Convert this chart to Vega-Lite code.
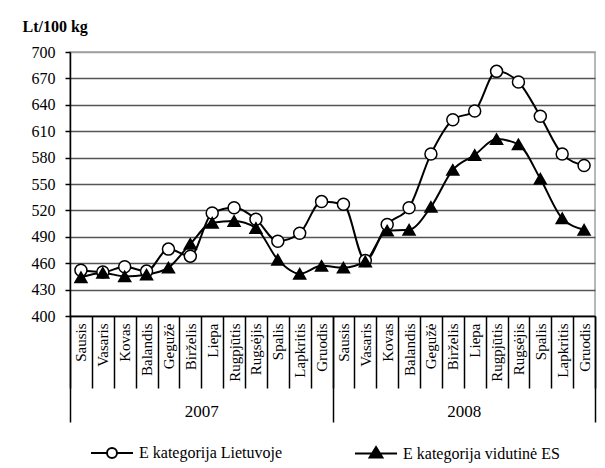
{
  "$schema": "https://vega.github.io/schema/vega-lite/v6.json",
  "width": 525,
  "height": 264,
  "autosize": {"type": "none"},
  "padding": {"left": 70, "top": 52, "right": 10, "bottom": 152},
  "background": "white",
  "config": {
    "font": "Liberation Serif",
    "view": {"stroke": "#a0a0a0", "strokeWidth": 1.5}
  },
  "data": {
    "values": [
      {"m": "Sausis 2007", "year": "2007", "s": "E kategorija Lietuvoje", "v": 452},
      {"m": "Vasaris 2007", "year": "2007", "s": "E kategorija Lietuvoje", "v": 450},
      {"m": "Kovas 2007", "year": "2007", "s": "E kategorija Lietuvoje", "v": 456},
      {"m": "Balandis 2007", "year": "2007", "s": "E kategorija Lietuvoje", "v": 451},
      {"m": "Gegužė 2007", "year": "2007", "s": "E kategorija Lietuvoje", "v": 476},
      {"m": "Birželis 2007", "year": "2007", "s": "E kategorija Lietuvoje", "v": 468},
      {"m": "Liepa 2007", "year": "2007", "s": "E kategorija Lietuvoje", "v": 517},
      {"m": "Rugpjūtis 2007", "year": "2007", "s": "E kategorija Lietuvoje", "v": 523},
      {"m": "Rugsėjis 2007", "year": "2007", "s": "E kategorija Lietuvoje", "v": 510},
      {"m": "Spalis 2007", "year": "2007", "s": "E kategorija Lietuvoje", "v": 485},
      {"m": "Lapkritis 2007", "year": "2007", "s": "E kategorija Lietuvoje", "v": 494},
      {"m": "Gruodis 2007", "year": "2007", "s": "E kategorija Lietuvoje", "v": 530},
      {"m": "Sausis 2008", "year": "2008", "s": "E kategorija Lietuvoje", "v": 527},
      {"m": "Vasaris 2008", "year": "2008", "s": "E kategorija Lietuvoje", "v": 463},
      {"m": "Kovas 2008", "year": "2008", "s": "E kategorija Lietuvoje", "v": 504},
      {"m": "Balandis 2008", "year": "2008", "s": "E kategorija Lietuvoje", "v": 523},
      {"m": "Gegužė 2008", "year": "2008", "s": "E kategorija Lietuvoje", "v": 584},
      {"m": "Birželis 2008", "year": "2008", "s": "E kategorija Lietuvoje", "v": 623},
      {"m": "Liepa 2008", "year": "2008", "s": "E kategorija Lietuvoje", "v": 633},
      {"m": "Rugpjūtis 2008", "year": "2008", "s": "E kategorija Lietuvoje", "v": 678},
      {"m": "Rugsėjis 2008", "year": "2008", "s": "E kategorija Lietuvoje", "v": 666},
      {"m": "Spalis 2008", "year": "2008", "s": "E kategorija Lietuvoje", "v": 627},
      {"m": "Lapkritis 2008", "year": "2008", "s": "E kategorija Lietuvoje", "v": 584},
      {"m": "Gruodis 2008", "year": "2008", "s": "E kategorija Lietuvoje", "v": 571},
      {"m": "Sausis 2007", "year": "2007", "s": "E kategorija  vidutinė ES", "v": 444},
      {"m": "Vasaris 2007", "year": "2007", "s": "E kategorija  vidutinė ES", "v": 449},
      {"m": "Kovas 2007", "year": "2007", "s": "E kategorija  vidutinė ES", "v": 445},
      {"m": "Balandis 2007", "year": "2007", "s": "E kategorija  vidutinė ES", "v": 447},
      {"m": "Gegužė 2007", "year": "2007", "s": "E kategorija  vidutinė ES", "v": 455},
      {"m": "Birželis 2007", "year": "2007", "s": "E kategorija  vidutinė ES", "v": 482},
      {"m": "Liepa 2007", "year": "2007", "s": "E kategorija  vidutinė ES", "v": 506},
      {"m": "Rugpjūtis 2007", "year": "2007", "s": "E kategorija  vidutinė ES", "v": 508},
      {"m": "Rugsėjis 2007", "year": "2007", "s": "E kategorija  vidutinė ES", "v": 500},
      {"m": "Spalis 2007", "year": "2007", "s": "E kategorija  vidutinė ES", "v": 464},
      {"m": "Lapkritis 2007", "year": "2007", "s": "E kategorija  vidutinė ES", "v": 448},
      {"m": "Gruodis 2007", "year": "2007", "s": "E kategorija  vidutinė ES", "v": 457},
      {"m": "Sausis 2008", "year": "2008", "s": "E kategorija  vidutinė ES", "v": 455},
      {"m": "Vasaris 2008", "year": "2008", "s": "E kategorija  vidutinė ES", "v": 462},
      {"m": "Kovas 2008", "year": "2008", "s": "E kategorija  vidutinė ES", "v": 497},
      {"m": "Balandis 2008", "year": "2008", "s": "E kategorija  vidutinė ES", "v": 498},
      {"m": "Gegužė 2008", "year": "2008", "s": "E kategorija  vidutinė ES", "v": 524},
      {"m": "Birželis 2008", "year": "2008", "s": "E kategorija  vidutinė ES", "v": 566},
      {"m": "Liepa 2008", "year": "2008", "s": "E kategorija  vidutinė ES", "v": 583},
      {"m": "Rugpjūtis 2008", "year": "2008", "s": "E kategorija  vidutinė ES", "v": 601},
      {"m": "Rugsėjis 2008", "year": "2008", "s": "E kategorija  vidutinė ES", "v": 595},
      {"m": "Spalis 2008", "year": "2008", "s": "E kategorija  vidutinė ES", "v": 556},
      {"m": "Lapkritis 2008", "year": "2008", "s": "E kategorija  vidutinė ES", "v": 511},
      {"m": "Gruodis 2008", "year": "2008", "s": "E kategorija  vidutinė ES", "v": 498}
    ]
  },
  "layer": [
    {
      "mark": {"type": "line", "interpolate": "monotone", "color": "black", "strokeWidth": 2},
      "encoding": {
        "x": {"field": "m", "type": "nominal", "sort": null, "scale": {"type": "band", "paddingInner": 0, "paddingOuter": 0}, "axis": null},
        "y": {
          "field": "v", "type": "quantitative",
          "scale": {"domain": [400, 700], "zero": false, "nice": false},
          "axis": {
            "values": [400, 430, 460, 490, 520, 550, 580, 610, 640, 670, 700],
            "tickCount": 11,
            "labelOverlap": false,
            "grid": true,
            "gridColor": {"condition": {"test": "datum.value >= 700", "value": "#a0a0a0"}, "value": "#555555"},
            "gridWidth": 1.5,
            "tickSize": 5, "tickColor": "black", "tickWidth": 1.5,
            "domainColor": "black", "domainWidth": 1.5,
            "labelFontSize": 16, "labelPadding": 10, "labelColor": "black",
            "title": "Lt/100 kg", "titleAngle": 0, "titleX": -48, "titleY": -26,
            "titleAlign": "left", "titleBaseline": "middle", "titleFontSize": 16,
            "titleFontWeight": "bold", "titleColor": "black"
          }
        },
        "detail": {"field": "s"}
      }
    },
    {
      "mark": {"type": "point", "filled": true, "stroke": "black", "strokeWidth": 1.5, "size": 144, "opacity": 1},
      "encoding": {
        "x": {
          "field": "m", "type": "nominal", "sort": null,
          "scale": {"type": "band", "paddingInner": 0, "paddingOuter": 0},
          "axis": {
            "orient": "bottom", "title": null, "tickBand": "extent", "tickSize": 72,
            "tickColor": "black", "tickWidth": 1.5, "domainColor": "black", "domainWidth": 1.5,
            "labelAngle": -90, "labelPadding": -65, "labelFontSize": 15, "labelColor": "black",
            "labelOverlap": false,
            "labelExpr": "datum.value ? split(datum.value, ' ')[0] : ''", "grid": false
          }
        },
        "y": {"field": "v", "type": "quantitative"},
        "shape": {
          "field": "s", "type": "nominal", "sort": null,
          "scale": {"domain": ["E kategorija Lietuvoje", "E kategorija  vidutinė ES"], "range": ["circle", "triangle-up"]},
          "legend": null
        },
        "fill": {
          "field": "s", "type": "nominal", "sort": null,
          "scale": {"domain": ["E kategorija Lietuvoje", "E kategorija  vidutinė ES"], "range": ["white", "black"]},
          "legend": null
        }
      }
    },
    {
      "transform": [{"filter": "false"}],
      "mark": {"type": "point", "filled": true, "strokeWidth": 2, "opacity": 1},
      "encoding": {
        "shape": {
          "field": "s", "type": "nominal", "sort": null,
          "scale": {
            "domain": ["E kategorija Lietuvoje", "E kategorija  vidutinė ES"],
            "range": [
              "M-5.25,0L-1.25,0M1.25,0L5.25,0M-1.25,0A1.25,1.25,0,1,0,1.25,0A1.25,1.25,0,1,0,-1.25,0Z",
              "M-5.25,0L5.25,0M0,-1.6L1.6,1L-1.6,1Z"
            ]
          },
          "legend": {
            "orient": "none", "legendX": 34, "legendY": 393, "direction": "horizontal",
            "title": null, "padding": 0, "symbolSize": 64, "symbolStrokeWidth": 2, "symbolOpacity": 1,
            "labelFont": "Liberation Serif", "labelFontSize": 16, "labelColor": "black",
            "labelOffset": 19, "columnPadding": 68, "labelLimit": 300
          }
        },
        "fill": {
          "field": "s", "type": "nominal", "sort": null,
          "scale": {"domain": ["E kategorija Lietuvoje", "E kategorija  vidutinė ES"], "range": ["white", "black"]},
          "legend": {
            "orient": "none", "legendX": 34, "legendY": 393, "direction": "horizontal",
            "title": null, "padding": 0, "symbolSize": 64, "symbolStrokeWidth": 2, "symbolOpacity": 1,
            "labelFont": "Liberation Serif", "labelFontSize": 16, "labelColor": "black",
            "labelOffset": 19, "columnPadding": 68, "labelLimit": 300
          }
        },
        "stroke": {
          "field": "s", "type": "nominal", "sort": null,
          "scale": {"domain": ["E kategorija Lietuvoje", "E kategorija  vidutinė ES"], "range": ["black", "black"]},
          "legend": {
            "orient": "none", "legendX": 34, "legendY": 393, "direction": "horizontal",
            "title": null, "padding": 0, "symbolSize": 64, "symbolStrokeWidth": 2, "symbolOpacity": 1,
            "labelFont": "Liberation Serif", "labelFontSize": 16, "labelColor": "black",
            "labelOffset": 19, "columnPadding": 68, "labelLimit": 300
          }
        }
      }
    },
    {
      "mark": {"type": "point", "opacity": 0},
      "encoding": {
        "x": {
          "field": "year", "type": "nominal", "sort": null,
          "scale": {"type": "band", "paddingInner": 0, "paddingOuter": 0},
          "axis": {
            "orient": "bottom", "title": null, "tickBand": "extent", "tickSize": 106,
            "tickColor": "black", "tickWidth": 1.5, "domain": false, "grid": false,
            "labelAngle": 0, "labelPadding": -19, "labelFontSize": 17, "labelColor": "black"
          }
        },
        "y": {"field": "v", "type": "quantitative"}
      }
    }
  ],
  "resolve": {
    "scale": {"x": "independent", "shape": "independent", "fill": "independent", "stroke": "independent"},
    "axis": {"x": "independent"},
    "legend": {"shape": "independent", "fill": "independent", "stroke": "independent"}
  }
}
